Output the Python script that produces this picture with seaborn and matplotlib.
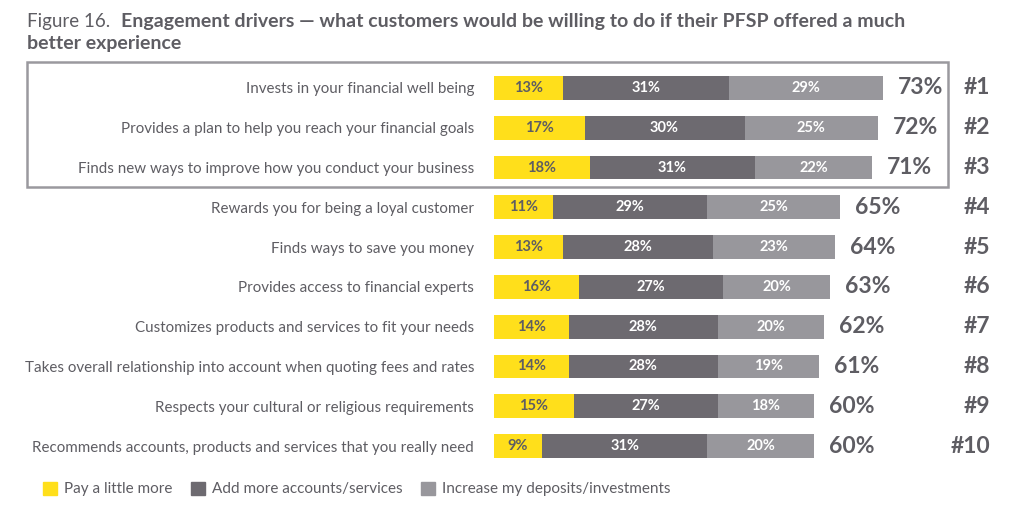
import matplotlib
matplotlib.use("Agg")
import matplotlib.pyplot as plt
import matplotlib.patches as mpatches
import seaborn as sns
import pandas as pd
import numpy as np

categories = [
    "Invests in your financial well being",
    "Provides a plan to help you reach your financial goals",
    "Finds new ways to improve how you conduct your business",
    "Rewards you for being a loyal customer",
    "Finds ways to save you money",
    "Provides access to financial experts",
    "Customizes products and services to fit your needs",
    "Takes overall relationship into account when quoting fees and rates",
    "Respects your cultural or religious requirements",
    "Recommends accounts, products and services that you really need",
]
pay_more = [13, 17, 18, 11, 13, 16, 14, 14, 15, 9]
add_accounts = [31, 30, 31, 29, 28, 27, 28, 28, 27, 31]
increase_deposits = [29, 25, 22, 25, 23, 20, 20, 19, 18, 20]
totals = [73, 72, 71, 65, 64, 63, 62, 61, 60, 60]
ranks = ["#1", "#2", "#3", "#4", "#5", "#6", "#7", "#8", "#9", "#10"]
series_names = ["Pay a little more", "Add more accounts/services", "Increase my deposits/investments"]

YELLOW = "#FFDF1B"
DARK = "#6D6A70"
LIGHT = "#98979C"
TEXT = "#5E5D63"

sns.set_theme(style="white")
plt.rcParams['font.family'] = ['Lato', 'DejaVu Sans']

df = pd.DataFrame({
    "category": categories,
    "s1": pay_more,
    "s2": add_accounts,
    "s3": increase_deposits,
})
df["c1"] = df["s1"]
df["c2"] = df["s1"] + df["s2"]
df["c3"] = df["c2"] + df["s3"]

W, H = 1021, 515
fig = plt.figure(figsize=(W / 100, H / 100), dpi=100)
ax_left = 494 / W
ax_w = (W - 494) / W
ax_top = 68
ax_bottom = 466
ax = fig.add_axes([ax_left, (H - ax_bottom) / H, ax_w, (ax_bottom - ax_top) / H])

for col, color in [("c3", LIGHT), ("c2", DARK), ("c1", YELLOW)]:
    sns.barplot(data=df, x=col, y="category", orient="h", color=color,
                width=0.6, saturation=1, ax=ax, edgecolor="none", linewidth=0)

px_per_unit = 5.33
ax.set_xlim(0, (W - 494) / px_per_unit)
ax.set_ylim(9.5, -0.5)

for i in range(len(categories)):
    segs = [(0, pay_more[i], TEXT), (pay_more[i], add_accounts[i], "white"),
            (pay_more[i] + add_accounts[i], increase_deposits[i], "white")]
    for start, val, tc in segs:
        ax.text(start + val / 2, i, f"{val}%", ha="center", va="center",
                fontsize=10.5, fontweight="bold", color=tc)
    ax.text(totals[i] + 2.8, i, f"{totals[i]}%", ha="left", va="center",
            fontsize=16.5, fontweight="bold", color=TEXT)
    ax.text((990 - 494) / px_per_unit, i, ranks[i], ha="right", va="center",
            fontsize=16.5, fontweight="bold", color=TEXT)

ax.set_xlabel("")
ax.set_ylabel("")
ax.set_xticks([])
ax.tick_params(axis="y", length=0, pad=14.4, labelsize=10.9, labelcolor=TEXT)
for s in ax.spines.values():
    s.set_visible(False)

# Frame around top 3
fig.patches.append(mpatches.Rectangle((27 / W, 1 - 187 / H), (948 - 27) / W, (187 - 62) / H,
                                      transform=fig.transFigure, fill=False,
                                      edgecolor="#9A999E", linewidth=1.8))

# Title
t1 = fig.text(27 / W, 1 - 21 / H, "Figure 16.", fontsize=13.5, color=TEXT, va="center", ha="left")
fig.canvas.draw()
bb = t1.get_window_extent()
fig.text((bb.x1 + 11) / W, 1 - 21 / H,
         "Engagement drivers \u2014 what customers would be willing to do if their PFSP offered a much",
         fontsize=14.0, fontweight="bold", color=TEXT, va="center", ha="left")
fig.text(27 / W, 1 - 44 / H, "better experience", fontsize=14.0, fontweight="bold",
         color=TEXT, va="center", ha="left")

handles = [mpatches.Patch(color=c, label=n) for c, n in zip([YELLOW, DARK, LIGHT], series_names)]
leg = fig.legend(handles=handles, loc="center left", bbox_to_anchor=(29 / W, 1 - 489 / H),
                 ncol=3, frameon=False, fontsize=11, handlelength=0.92, handleheight=0.92,
                 columnspacing=1.2, handletextpad=0.46)
for txt in leg.get_texts():
    txt.set_color(TEXT)

fig.savefig("out.png", dpi=100)
